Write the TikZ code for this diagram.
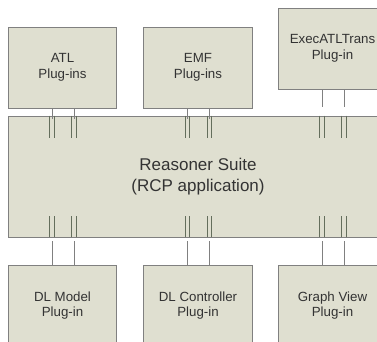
\documentclass[tikz,border=0pt]{standalone}
\usepackage{fontspec}
\setmainfont{Liberation Sans}
\usetikzlibrary{positioning}
\definecolor{boxfill}{RGB}{223,223,208}
\definecolor{boxline}{RGB}{128,128,128}
\definecolor{pinline}{RGB}{100,110,92}
\tikzset{
  plugbox/.style={draw=boxline, fill=boxfill, line width=0.8pt, minimum width=108.5pt,
    minimum height=81pt, inner sep=0pt, align=center, text=black!80,
    font=\fontsize{13.3}{15.5}\selectfont},
  suitebox/.style={draw=boxline, fill=boxfill, line width=0.8pt, minimum width=380pt,
    minimum height=121pt, inner sep=0pt, align=center, text=black!80,
    font=\fontsize{17}{21}\selectfont},
  wire/.style={draw=boxline, line width=0.7pt},
  pin/.style={draw=pinline, line width=0.75pt}
}

\begin{document}
\begin{tikzpicture}[x=1pt, y=-1pt]
    \useasboundingbox (0,0) rectangle (377,341);
    \clip (0,0) rectangle (377,341);
    % plug-ins on top
    \node[plugbox] (atl) at (62.5,67.5) {ATL\\Plug-ins};
    \node[plugbox] (emf) at (198,67.5) {EMF\\Plug-ins};
    \node[plugbox] (exec) at (332.5,48.5) {ExecATLTrans\\Plug-in};
    % the application
    \node[suitebox] (suite) at (198,176.5) {Reasoner Suite\\(RCP application)};
    % plug-ins below
    \node[plugbox] (model) at (62.5,305.5) {DL Model\\Plug-in};
    \node[plugbox] (ctrl) at (198,305.5) {DL Controller\\Plug-in};
    \node[plugbox] (view) at (332.5,305.5) {Graph View\\Plug-in};
    \foreach \p/\gap in {atl/-3,emf/-3,exec/9}
      \foreach \dx in {44,66} {
        \coordinate (t) at ([xshift=\dx pt]\p.south west);
        \path (t |- suite.north) coordinate (m);
        \draw[wire] (t) -- ([yshift=\gap pt]m);
        \draw[pin] ([xshift=-2.3pt]m) -- ++(0,22);
        \draw[pin] ([xshift=2.3pt]m) -- ++(0,22);
      }
    \foreach \p in {model,ctrl,view}
      \foreach \dx in {44,66} {
        \coordinate (b) at ([xshift=\dx pt]\p.north west);
        \path (b |- suite.south) coordinate (m);
        \draw[wire] ([yshift=-4pt]m) -- (b);
        \draw[pin] ([xshift=-2.3pt]m) -- ++(0,-21);
        \draw[pin] ([xshift=2.3pt]m) -- ++(0,-21);
      }
\end{tikzpicture}
\end{document}
